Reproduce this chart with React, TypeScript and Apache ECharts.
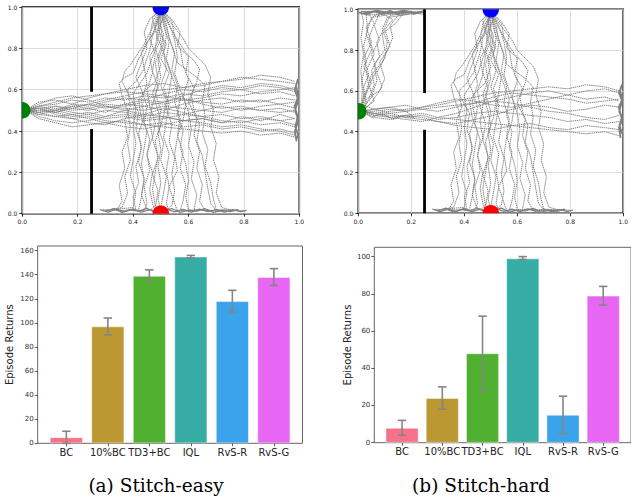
import React, { useEffect, useRef } from "react";
import * as echarts from "echarts";

// ---------- bar chart data ----------
const METHODS = ["BC", "10%BC", "TD3+BC", "IQL", "RvS-R", "RvS-G"];
const BAR_COLORS = ["#f77189", "#bb9832", "#50b131", "#36ada4", "#3ba3ec", "#e866f4"];
const EASY_MEAN = [5, 97, 139, 155, 118, 138];
const EASY_LOW = [0, 90, 134, 154, 109, 131];
const EASY_HIGH = [10, 104, 144, 156, 127, 145];
const HARD_MEAN = [8, 24, 48, 99, 15, 79];
const HARD_LOW = [4, 18, 28, 98.4, 5, 74];
const HARD_HIGH = [12, 30, 68, 100, 25, 84];
const EASY_TICKS = [0, 20, 40, 60, 80, 100, 120, 140, 160];
const HARD_TICKS = [0, 20, 40, 60, 80, 100];
const BAR_POS = [0, 1, 2, 3, 4, 5];

// ---------- maze trajectory data ----------
const GOALS = [
  [0, 0.5],
  [0.5, 1.0],
  [0.5, 0.0],
];
const GOAL_COLORS = ["#008000", "#0000ff", "#ff0000"];
const WALL_LOW = [[0.25, 0], [0.25, 0.41]];
const WALL_HIGH = [[0.25, 0.59], [0.25, 1.0]];

// shared x positions for the horizontal (green -> right wall) trajectories
const HX = [0.01, 0.06, 0.12, 0.18, 0.24, 0.3, 0.37, 0.44, 0.51, 0.58, 0.65, 0.72, 0.79, 0.86, 0.93, 0.985];
const EASY_H_YS = [
  [0.5, 0.51, 0.49, 0.52, 0.53, 0.55, 0.57, 0.59, 0.6, 0.61, 0.63, 0.64, 0.66, 0.65, 0.64, 0.63],
  [0.5, 0.48, 0.47, 0.46, 0.47, 0.45, 0.44, 0.43, 0.42, 0.41, 0.4, 0.39, 0.4, 0.38, 0.39, 0.37],
  [0.5, 0.52, 0.53, 0.55, 0.54, 0.56, 0.55, 0.57, 0.56, 0.58, 0.57, 0.59, 0.6, 0.58, 0.59, 0.57],
  [0.5, 0.49, 0.5, 0.48, 0.49, 0.47, 0.48, 0.46, 0.47, 0.45, 0.46, 0.44, 0.45, 0.43, 0.44, 0.42],
  [0.5, 0.51, 0.52, 0.5, 0.51, 0.53, 0.52, 0.54, 0.53, 0.55, 0.54, 0.53, 0.55, 0.54, 0.56, 0.55],
  [0.5, 0.47, 0.45, 0.44, 0.45, 0.47, 0.5, 0.52, 0.54, 0.57, 0.6, 0.62, 0.61, 0.63, 0.62, 0.6],
  [0.5, 0.53, 0.56, 0.57, 0.55, 0.52, 0.5, 0.48, 0.47, 0.45, 0.46, 0.44, 0.47, 0.45, 0.48, 0.46],
  [0.5, 0.5, 0.49, 0.51, 0.5, 0.52, 0.51, 0.5, 0.52, 0.51, 0.5, 0.49, 0.51, 0.5, 0.49, 0.5],
  [0.5, 0.49, 0.47, 0.48, 0.46, 0.44, 0.45, 0.43, 0.44, 0.42, 0.43, 0.41, 0.42, 0.4, 0.41, 0.39],
  [0.5, 0.52, 0.54, 0.56, 0.57, 0.58, 0.6, 0.62, 0.63, 0.61, 0.62, 0.64, 0.65, 0.67, 0.66, 0.64],
  [0.5, 0.48, 0.5, 0.52, 0.51, 0.49, 0.53, 0.55, 0.54, 0.56, 0.53, 0.51, 0.52, 0.5, 0.51, 0.49],
  [0.5, 0.51, 0.48, 0.46, 0.44, 0.43, 0.46, 0.48, 0.51, 0.49, 0.47, 0.48, 0.46, 0.47, 0.45, 0.46],
  [0.5, 0.54, 0.55, 0.53, 0.56, 0.58, 0.59, 0.58, 0.57, 0.55, 0.56, 0.58, 0.57, 0.59, 0.6, 0.61],
  [0.5, 0.46, 0.44, 0.42, 0.43, 0.44, 0.42, 0.41, 0.43, 0.45, 0.44, 0.42, 0.43, 0.41, 0.4, 0.38],
  [0.5, 0.52, 0.5, 0.53, 0.52, 0.54, 0.56, 0.55, 0.58, 0.6, 0.59, 0.61, 0.6, 0.62, 0.61, 0.59],
  [0.5, 0.49, 0.51, 0.49, 0.48, 0.5, 0.49, 0.47, 0.49, 0.48, 0.5, 0.52, 0.5, 0.52, 0.53, 0.51],
  [0.5, 0.51, 0.49, 0.47, 0.48, 0.46, 0.47, 0.45, 0.46, 0.48, 0.47, 0.45, 0.44, 0.46, 0.45, 0.43],
  [0.5, 0.5, 0.52, 0.51, 0.53, 0.51, 0.53, 0.52, 0.5, 0.53, 0.55, 0.56, 0.54, 0.55, 0.53, 0.54],
];
const HARD_H_YS = [
  [0.5, 0.49, 0.5, 0.51, 0.52, 0.53, 0.55, 0.57, 0.59, 0.6, 0.61, 0.62, 0.61, 0.63, 0.62, 0.6],
  [0.5, 0.48, 0.47, 0.48, 0.49, 0.47, 0.46, 0.45, 0.44, 0.43, 0.42, 0.41, 0.4, 0.39, 0.4, 0.38],
  [0.5, 0.51, 0.49, 0.5, 0.52, 0.54, 0.56, 0.55, 0.53, 0.52, 0.54, 0.56, 0.58, 0.6, 0.61, 0.59],
  [0.5, 0.49, 0.48, 0.47, 0.48, 0.46, 0.47, 0.49, 0.5, 0.49, 0.48, 0.47, 0.45, 0.46, 0.44, 0.45],
  [0.5, 0.5, 0.51, 0.5, 0.51, 0.52, 0.53, 0.54, 0.55, 0.54, 0.52, 0.5, 0.49, 0.47, 0.46, 0.48],
  [0.5, 0.48, 0.49, 0.47, 0.46, 0.45, 0.44, 0.46, 0.48, 0.51, 0.53, 0.52, 0.5, 0.51, 0.53, 0.52],
  [0.5, 0.51, 0.52, 0.53, 0.51, 0.5, 0.52, 0.54, 0.57, 0.59, 0.58, 0.57, 0.56, 0.54, 0.55, 0.56],
  [0.5, 0.47, 0.46, 0.48, 0.47, 0.45, 0.43, 0.42, 0.41, 0.43, 0.44, 0.42, 0.41, 0.43, 0.42, 0.41],
  [0.5, 0.49, 0.47, 0.46, 0.45, 0.47, 0.49, 0.52, 0.55, 0.57, 0.59, 0.6, 0.58, 0.56, 0.57, 0.55],
];

// blue goal -> bottom wall trajectories (both tasks)
const V_PATHS = [
  [[0.5, 0.99], [0.49, 0.93], [0.47, 0.86], [0.46, 0.79], [0.44, 0.71], [0.45, 0.63], [0.43, 0.55], [0.44, 0.47], [0.42, 0.39], [0.43, 0.31], [0.41, 0.23], [0.42, 0.15], [0.4, 0.08], [0.41, 0.02], [0.35, 0.015], [0.29, 0.02]],
  [[0.5, 0.99], [0.52, 0.92], [0.53, 0.85], [0.55, 0.78], [0.54, 0.7], [0.56, 0.62], [0.55, 0.54], [0.57, 0.46], [0.56, 0.38], [0.58, 0.3], [0.57, 0.22], [0.59, 0.14], [0.58, 0.06], [0.57, 0.015], [0.65, 0.02], [0.72, 0.012]],
  [[0.5, 0.99], [0.48, 0.9], [0.45, 0.82], [0.42, 0.75], [0.4, 0.68], [0.37, 0.66], [0.35, 0.63], [0.36, 0.57], [0.38, 0.5], [0.39, 0.42], [0.38, 0.34], [0.39, 0.26], [0.37, 0.18], [0.38, 0.1], [0.36, 0.03], [0.3, 0.015]],
  [[0.5, 0.99], [0.53, 0.91], [0.56, 0.84], [0.59, 0.78], [0.62, 0.74], [0.64, 0.7], [0.63, 0.64], [0.61, 0.57], [0.62, 0.5], [0.64, 0.43], [0.63, 0.35], [0.65, 0.28], [0.66, 0.2], [0.67, 0.12], [0.68, 0.05], [0.7, 0.015], [0.78, 0.02]],
  [[0.5, 0.99], [0.5, 0.9], [0.51, 0.82], [0.49, 0.74], [0.5, 0.66], [0.48, 0.58], [0.5, 0.5], [0.49, 0.42], [0.51, 0.34], [0.5, 0.26], [0.52, 0.18], [0.51, 0.1], [0.5, 0.03]],
  [[0.5, 0.99], [0.47, 0.93], [0.46, 0.85], [0.48, 0.77], [0.47, 0.69], [0.49, 0.61], [0.47, 0.53], [0.46, 0.45], [0.47, 0.37], [0.45, 0.29], [0.46, 0.21], [0.44, 0.13], [0.45, 0.05], [0.44, 0.015], [0.38, 0.02]],
  [[0.5, 0.99], [0.54, 0.93], [0.55, 0.86], [0.57, 0.8], [0.58, 0.72], [0.6, 0.65], [0.58, 0.57], [0.6, 0.49], [0.61, 0.41], [0.6, 0.33], [0.62, 0.25], [0.61, 0.17], [0.63, 0.09], [0.62, 0.02], [0.68, 0.015]],
  [[0.5, 0.99], [0.51, 0.91], [0.53, 0.83], [0.52, 0.75], [0.54, 0.67], [0.53, 0.59], [0.52, 0.51], [0.54, 0.43], [0.53, 0.35], [0.55, 0.27], [0.54, 0.19], [0.55, 0.11], [0.54, 0.04], [0.52, 0.015]],
  [[0.5, 0.99], [0.49, 0.92], [0.5, 0.84], [0.47, 0.76], [0.45, 0.68], [0.42, 0.62], [0.4, 0.58], [0.41, 0.5], [0.4, 0.42], [0.41, 0.34], [0.4, 0.26], [0.39, 0.18], [0.41, 0.1], [0.4, 0.03], [0.33, 0.02]],
  [[0.5, 0.99], [0.52, 0.9], [0.54, 0.81], [0.56, 0.73], [0.6, 0.69], [0.63, 0.66], [0.66, 0.62], [0.65, 0.55], [0.66, 0.47], [0.65, 0.39], [0.67, 0.31], [0.66, 0.23], [0.68, 0.15], [0.69, 0.07], [0.7, 0.02], [0.8, 0.015]],
  [[0.5, 0.99], [0.48, 0.91], [0.49, 0.83], [0.46, 0.76], [0.47, 0.68], [0.45, 0.6], [0.46, 0.52], [0.48, 0.44], [0.47, 0.36], [0.49, 0.28], [0.48, 0.2], [0.47, 0.12], [0.48, 0.04], [0.46, 0.015]],
  [[0.5, 0.99], [0.51, 0.93], [0.52, 0.86], [0.51, 0.78], [0.53, 0.7], [0.55, 0.63], [0.57, 0.56], [0.56, 0.48], [0.58, 0.4], [0.57, 0.32], [0.59, 0.24], [0.6, 0.16], [0.59, 0.08], [0.6, 0.02]],
  [[0.5, 0.99], [0.49, 0.9], [0.48, 0.8], [0.5, 0.72], [0.48, 0.64], [0.44, 0.59], [0.42, 0.55], [0.43, 0.47], [0.45, 0.4], [0.44, 0.32], [0.43, 0.24], [0.44, 0.16], [0.43, 0.08], [0.42, 0.02]],
  [[0.5, 0.99], [0.53, 0.92], [0.55, 0.84], [0.56, 0.76], [0.55, 0.68], [0.57, 0.6], [0.59, 0.53], [0.58, 0.45], [0.56, 0.37], [0.55, 0.29], [0.56, 0.21], [0.53, 0.13], [0.55, 0.05], [0.56, 0.015]],
  [[0.5, 0.99], [0.5, 0.92], [0.49, 0.85], [0.51, 0.78], [0.52, 0.7], [0.5, 0.62], [0.52, 0.55], [0.51, 0.47], [0.49, 0.39], [0.5, 0.31], [0.49, 0.23], [0.5, 0.15], [0.49, 0.07], [0.5, 0.02]],
  [[0.5, 0.99], [0.47, 0.9], [0.44, 0.82], [0.41, 0.76], [0.39, 0.72], [0.37, 0.69], [0.36, 0.64], [0.39, 0.56], [0.42, 0.49], [0.41, 0.41], [0.43, 0.33], [0.42, 0.25], [0.44, 0.17], [0.43, 0.09], [0.45, 0.02]],
  [[0.5, 0.99], [0.46, 0.94], [0.44, 0.88], [0.45, 0.8], [0.43, 0.73], [0.41, 0.66], [0.43, 0.6], [0.45, 0.52], [0.44, 0.44], [0.46, 0.36], [0.45, 0.28], [0.47, 0.2], [0.46, 0.12], [0.47, 0.05], [0.48, 0.015]],
  [[0.5, 0.99], [0.54, 0.94], [0.57, 0.88], [0.56, 0.81], [0.6, 0.76], [0.59, 0.68], [0.62, 0.61], [0.6, 0.54], [0.63, 0.46], [0.62, 0.38], [0.64, 0.3], [0.63, 0.22], [0.65, 0.14], [0.64, 0.06], [0.66, 0.015], [0.74, 0.012]],
  [[0.5, 0.99], [0.51, 0.95], [0.49, 0.89], [0.52, 0.82], [0.5, 0.75], [0.53, 0.68], [0.51, 0.61], [0.53, 0.53], [0.52, 0.45], [0.51, 0.37], [0.53, 0.29], [0.52, 0.21], [0.53, 0.13], [0.52, 0.05], [0.53, 0.015]],
  [[0.5, 0.99], [0.47, 0.95], [0.48, 0.88], [0.45, 0.83], [0.43, 0.78], [0.44, 0.7], [0.41, 0.64], [0.38, 0.6], [0.39, 0.52], [0.37, 0.45], [0.38, 0.37], [0.36, 0.3], [0.37, 0.22], [0.35, 0.14], [0.36, 0.06], [0.34, 0.015]],
  [[0.5, 0.99], [0.52, 0.95], [0.55, 0.9], [0.58, 0.85], [0.6, 0.8], [0.63, 0.76], [0.66, 0.72], [0.68, 0.66], [0.67, 0.58], [0.69, 0.5], [0.68, 0.42], [0.7, 0.34], [0.69, 0.26], [0.71, 0.18], [0.7, 0.1], [0.72, 0.03], [0.76, 0.015]],
  [[0.5, 0.99], [0.49, 0.94], [0.51, 0.87], [0.5, 0.8], [0.48, 0.73], [0.49, 0.65], [0.47, 0.58], [0.49, 0.5], [0.5, 0.43], [0.48, 0.35], [0.49, 0.27], [0.47, 0.19], [0.49, 0.11], [0.48, 0.03], [0.5, 0.015]],
];

// scribbles along the bottom wall and the right wall
const BOTTOM_PATHS = [
  [[0.28, 0.02], [0.31, 0.008], [0.34, 0.022], [0.37, 0.01], [0.4, 0.024], [0.43, 0.008], [0.46, 0.02], [0.49, 0.01], [0.52, 0.023], [0.55, 0.009], [0.58, 0.021], [0.61, 0.008], [0.64, 0.022], [0.67, 0.01], [0.7, 0.02], [0.73, 0.008], [0.76, 0.018], [0.79, 0.01], [0.81, 0.016]],
  [[0.3, 0.012], [0.33, 0.025], [0.36, 0.006], [0.39, 0.018], [0.42, 0.012], [0.45, 0.026], [0.48, 0.006], [0.51, 0.016], [0.54, 0.025], [0.57, 0.006], [0.6, 0.017], [0.63, 0.012], [0.66, 0.024], [0.69, 0.006], [0.72, 0.016], [0.75, 0.01], [0.78, 0.02]],
];
const EASY_EDGE = [[0.99, 0.35], [0.984, 0.4], [0.997, 0.45], [0.985, 0.5], [0.996, 0.55], [0.984, 0.6], [0.995, 0.65], [0.988, 0.62], [0.997, 0.57], [0.983, 0.52], [0.994, 0.47], [0.986, 0.42], [0.996, 0.38], [0.99, 0.36]];
const HARD_EDGE = [[0.99, 0.37], [0.984, 0.42], [0.997, 0.46], [0.985, 0.5], [0.996, 0.55], [0.984, 0.59], [0.995, 0.63], [0.988, 0.6], [0.997, 0.56], [0.983, 0.52], [0.994, 0.47], [0.986, 0.43], [0.996, 0.39]];

// hard task: detour into the upper-left room
const HARD_UL_PATHS = [
  [[0.01, 0.5], [0.02, 0.58], [0.015, 0.66], [0.03, 0.74], [0.02, 0.82], [0.035, 0.9], [0.03, 0.97], [0.1, 0.98], [0.18, 0.985], [0.24, 0.98]],
  [[0.01, 0.5], [0.04, 0.56], [0.06, 0.63], [0.05, 0.7], [0.08, 0.77], [0.07, 0.84], [0.1, 0.91], [0.12, 0.97], [0.2, 0.985], [0.25, 0.99]],
  [[0.01, 0.5], [0.03, 0.6], [0.05, 0.68], [0.09, 0.74], [0.11, 0.8], [0.13, 0.86], [0.12, 0.92], [0.15, 0.97], [0.22, 0.98]],
  [[0.01, 0.5], [0.02, 0.55], [0.04, 0.62], [0.03, 0.7], [0.06, 0.78], [0.04, 0.86], [0.06, 0.93], [0.04, 0.98], [0.01, 0.99], [0.12, 0.99]],
  [[0.01, 0.5], [0.05, 0.57], [0.07, 0.65], [0.06, 0.73], [0.1, 0.8], [0.09, 0.88], [0.14, 0.93], [0.17, 0.98], [0.25, 0.985]],
  [[0.01, 0.5], [0.015, 0.6], [0.01, 0.7], [0.02, 0.78], [0.01, 0.86], [0.02, 0.94], [0.01, 0.99], [0.08, 0.985]],
  [[0.01, 0.5], [0.03, 0.56], [0.08, 0.6], [0.1, 0.66], [0.08, 0.74], [0.12, 0.82], [0.1, 0.9], [0.13, 0.95], [0.09, 0.98], [0.2, 0.99]],
  [[0.01, 0.5], [0.06, 0.55], [0.04, 0.63], [0.07, 0.7], [0.05, 0.78], [0.08, 0.85], [0.06, 0.92], [0.08, 0.98], [0.16, 0.99], [0.25, 0.975]],
  [[0.01, 0.5], [0.02, 0.57], [0.05, 0.64], [0.02, 0.72], [0.05, 0.8], [0.03, 0.88], [0.05, 0.96], [0.12, 0.975], [0.24, 0.99]],
  [[0.01, 0.5], [0.04, 0.53], [0.07, 0.58], [0.09, 0.62], [0.07, 0.69], [0.1, 0.76], [0.11, 0.84], [0.09, 0.9], [0.11, 0.96], [0.19, 0.975]],
  [[0.01, 0.5], [0.03, 0.54], [0.02, 0.62], [0.04, 0.68], [0.02, 0.76], [0.05, 0.84], [0.03, 0.91], [0.06, 0.97], [0.14, 0.985]],
];
const HARD_TOP = [[0.0, 0.985], [0.03, 0.975], [0.06, 0.99], [0.09, 0.978], [0.12, 0.992], [0.15, 0.976], [0.18, 0.99], [0.21, 0.978], [0.245, 0.99], [0.22, 0.982], [0.17, 0.994], [0.12, 0.98], [0.07, 0.994], [0.02, 0.98]];
const HARD_START = [[0.01, 0.5], [0.05, 0.47], [0.09, 0.49], [0.13, 0.46], [0.17, 0.48], [0.21, 0.47], [0.18, 0.5], [0.12, 0.52], [0.06, 0.51], [0.02, 0.53]];

const FONT = "DejaVu Sans";

function withX(ys: number[]) {
  return ys.map((y, i) => [HX[i], y]);
}

function trajSeries(paths: number[][][], idx: number, width = 1, dashed = true) {
  return paths.map((p) => ({
    type: "line",
    xAxisIndex: idx,
    yAxisIndex: idx,
    data: p,
    symbol: "none",
    silent: true,
    clip: true,
    z: 2,
    lineStyle: { color: "#808080", width, type: dashed ? [1.4, 0.7] : "solid" },
  }));
}

function mapAxes(idx: number) {
  const common = {
    type: "value",
    gridIndex: idx,
    min: 0,
    max: 1,
    interval: 0.2,
    axisLine: { show: false, onZero: false },
    axisTick: { show: true, length: 3, lineStyle: { color: "#000", width: 0.8 } },
    axisLabel: {
      fontSize: 6,
      fontFamily: FONT,
      color: "#222",
      margin: 5,
      formatter: (v: number) => v.toFixed(1),
    },
    splitLine: { show: true, lineStyle: { color: "#d4d4d4", width: 0.8 } },
  };
  return { x: { ...common }, y: { ...common } };
}

function barAxes(idx: number, max: number, ticks: number[], nameGap: number) {
  return {
    x: {
      type: "value",
      gridIndex: idx,
      min: -0.69,
      max: 5.69,
      axisLine: { show: false, onZero: false },
      splitLine: { show: false },
      axisTick: { show: true, length: 3, customValues: BAR_POS, lineStyle: { color: "#333", width: 0.8 } },
      axisLabel: {
        customValues: BAR_POS,
        fontSize: 10,
        fontFamily: FONT,
        color: "#222",
        margin: 4,
        formatter: (v: number) => METHODS[Math.round(v)],
      },
    },
    y: {
      type: "value",
      gridIndex: idx,
      min: 0,
      max,
      name: "Episode Returns",
      nameLocation: "middle",
      nameGap,
      nameTextStyle: { fontSize: 10, fontFamily: FONT, color: "#222" },
      axisLine: { show: false, onZero: false },
      splitLine: { show: false },
      axisTick: { show: true, length: 3, customValues: ticks, lineStyle: { color: "#333", width: 0.8 } },
      axisLabel: { customValues: ticks, fontSize: 7, fontFamily: FONT, color: "#333", margin: 4 },
    },
  };
}

function barSeries(idx: number, means: number[], lows: number[], highs: number[]) {
  return [
    {
      type: "bar",
      xAxisIndex: idx,
      yAxisIndex: idx,
      barWidth: 33,
      silent: true,
      z: 2,
      data: means.map((v, i) => ({
        value: [BAR_POS[i], v],
        itemStyle: { color: BAR_COLORS[i], borderColor: "rgba(255,255,255,0.6)", borderWidth: 0.8 },
      })),
    },
    {
      type: "custom",
      xAxisIndex: idx,
      yAxisIndex: idx,
      silent: true,
      z: 3,
      data: lows.map((lo, i) => [BAR_POS[i], lo, highs[i]]),
      renderItem: (params: any, api: any) => {
        const x = api.value(0);
        const a = api.coord([x, api.value(1)]);
        const b = api.coord([x, api.value(2)]);
        const hw = 4.2;
        const st = { stroke: "#858585", lineWidth: 1.6 };
        return {
          type: "group",
          children: [
            { type: "line", shape: { x1: a[0], y1: a[1], x2: b[0], y2: b[1] }, style: st },
            { type: "line", shape: { x1: a[0] - hw, y1: a[1], x2: a[0] + hw, y2: a[1] }, style: st },
            { type: "line", shape: { x1: b[0] - hw, y1: b[1], x2: b[0] + hw, y2: b[1] }, style: st },
          ],
        };
      },
    },
  ];
}

function mazeExtras(idx: number) {
  const wall = (data: number[][]) => ({
    type: "line",
    xAxisIndex: idx,
    yAxisIndex: idx,
    data,
    symbol: "none",
    silent: true,
    z: 4,
    lineStyle: { color: "#000", width: 2.8 },
  });
  return [
    wall(WALL_LOW),
    wall(WALL_HIGH),
    {
      type: "custom",
      xAxisIndex: idx,
      yAxisIndex: idx,
      clip: true,
      silent: true,
      z: 5,
      data: GOALS,
      renderItem: (params: any, api: any) => {
        const c = api.coord([api.value(0), api.value(1)]);
        return {
          type: "circle",
          shape: { cx: c[0], cy: c[1], r: 8.3 },
          style: { fill: GOAL_COLORS[params.dataIndex] },
        };
      },
    },
  ];
}

export default function App() {
  const ref = useRef<HTMLDivElement>(null);
  useEffect(() => {
    if (!ref.current) return;
    const chart = echarts.init(ref.current, null, { renderer: "svg" });
    const m0 = mapAxes(0);
    const m1 = mapAxes(1);
    const b2 = barAxes(2, 163.8, EASY_TICKS, 23);
    const b3 = barAxes(3, 105, HARD_TICKS, 22);
    const captionStyle = { fontSize: 18.5, fontFamily: "DejaVu Serif", fill: "#000", align: "center", verticalAlign: "middle" };

    const option: any = {
      animation: false,
      backgroundColor: "#ffffff",
      grid: [
        { left: 22.3, top: 7, width: 277, height: 206.7, show: true, borderColor: "#000", borderWidth: 1.6, containLabel: false },
        { left: 358.3, top: 9.3, width: 273.8, height: 204, show: true, borderColor: "#000", borderWidth: 1.6, containLabel: false },
        { left: 37.7, top: 246, width: 264.8, height: 197.3, show: true, borderColor: "#666", borderWidth: 1, containLabel: false },
        { left: 374.3, top: 247.3, width: 263.7, height: 195.4, show: true, borderColor: "#666", borderWidth: 1, containLabel: false },
      ],
      xAxis: [m0.x, m1.x, b2.x, b3.x],
      yAxis: [m0.y, m1.y, b2.y, b3.y],
      graphic: [
        { type: "text", x: 156, y: 485, style: { ...captionStyle, text: "(a) Stitch-easy" } },
        { type: "text", x: 481, y: 485, style: { ...captionStyle, text: "(b) Stitch-hard" } },
      ],
      series: [
        ...trajSeries(EASY_H_YS.map(withX), 0),
        ...trajSeries(V_PATHS, 0),
        ...trajSeries(BOTTOM_PATHS, 0, 1.3, false),
        ...trajSeries([EASY_EDGE], 0, 1.8, false),
        ...mazeExtras(0),
        ...trajSeries(HARD_H_YS.map(withX), 1),
        ...trajSeries(HARD_UL_PATHS, 1),
        ...trajSeries([HARD_START], 1),
        ...trajSeries(V_PATHS, 1),
        ...trajSeries(BOTTOM_PATHS, 1, 1.3, false),
        ...trajSeries([HARD_EDGE, HARD_TOP], 1, 1.8, false),
        ...mazeExtras(1),
        ...barSeries(2, EASY_MEAN, EASY_LOW, EASY_HIGH),
        ...barSeries(3, HARD_MEAN, HARD_LOW, HARD_HIGH),
      ],
    };
    chart.setOption(option);
    return () => chart.dispose();
  }, []);
  return (
    <div
      ref={ref}
      style={{ position: "fixed", left: 0, top: 0, width: 631, height: 498, background: "#fff" }}
    />
  );
}
